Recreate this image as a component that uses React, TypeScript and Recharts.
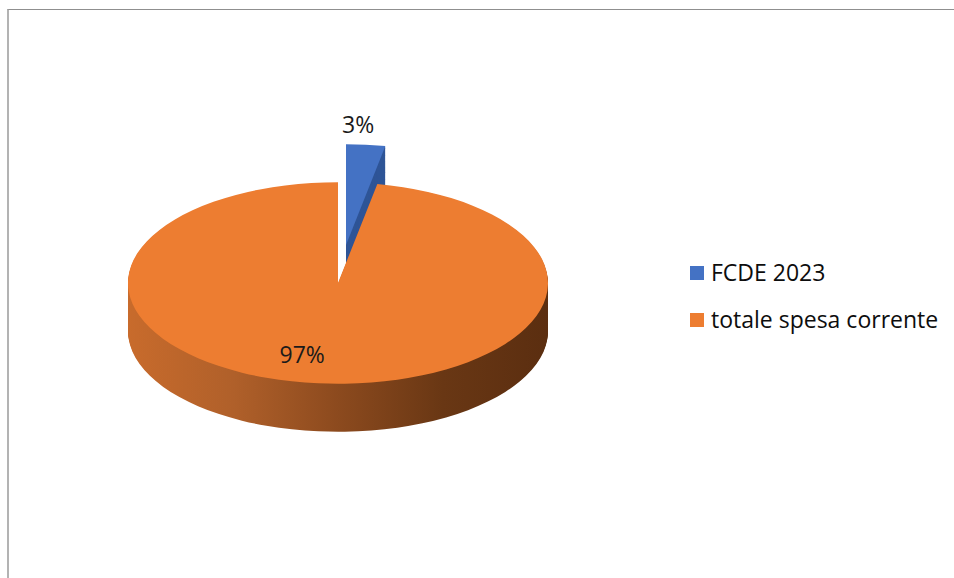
import { PieChart, Pie, Cell } from 'recharts'

const categories = ['FCDE 2023', 'totale spesa corrente']
const values = [3, 97]
const topColors = ['#4472C4', '#ED7D31']
const sideColors = ['#2F5597', 'url(#orangeSide)']

// the pie is drawn round and squashed vertically to fake Excel's 3D look
const K = 0.48
const CX = 333
const CY = 283 / K - 5
const R = 210
const DEPTH = 48 / K
const BLUE_SHIFT = { dx: 8, dy: -38 / K }
const FONT = '"Open Sans", sans-serif'

const data = categories.map((name, i) => ({ name, value: values[i] }))

const depthSteps: number[] = []
for (let s = DEPTH; s > 0; s -= 2) depthSteps.push(s)

const makeLabel = (idx: number, factor: number, nudge: number) => (p: any) => {
  if (p.index !== idx) return null
  const a = (-p.midAngle * Math.PI) / 180
  const r = p.outerRadius * factor
  const x = p.cx + r * Math.cos(a) + nudge
  const y = (p.cy + r * Math.sin(a)) * K
  return (
    <text
      x={x}
      y={y}
      transform={`scale(1, ${1 / K})`}
      textAnchor="middle"
      fill="#1a1a1a"
      fontSize={23}
      fontFamily={FONT}
    >
      {`${Math.round(p.percent * 100)}%`}
    </text>
  )
}

function sliceStack(idx: number, cx: number, cy: number, labelFactor: number, nudge: number) {
  const sides = depthSteps.map((s) => (
    <Pie
      key={`side-${idx}-${s}`}
      data={data}
      dataKey="value"
      cx={cx}
      cy={cy + s}
      outerRadius={R}
      startAngle={90}
      endAngle={-270}
      stroke="none"
      legendType="none"
      isAnimationActive={false}
    >
      {data.map((_, i) => (
        <Cell key={i} fill={i === idx ? sideColors[idx] : 'none'} />
      ))}
    </Pie>
  ))
  const top = (
    <Pie
      key={`top-${idx}`}
      data={data}
      dataKey="value"
      cx={cx}
      cy={cy}
      outerRadius={R}
      startAngle={90}
      endAngle={-270}
      stroke="none"
      legendType="none"
      label={makeLabel(idx, labelFactor, nudge)}
      labelLine={false}
      isAnimationActive={false}
    >
      {data.map((_, i) => (
        <Cell key={i} fill={i === idx ? topColors[idx] : 'none'} />
      ))}
    </Pie>
  )
  return [...sides, top]
}

function LegendBox() {
  return (
    <div style={{ position: 'absolute', left: 690, top: 249, fontFamily: FONT, fontSize: 23 }}>
      {categories.map((name, i) => (
        <div key={name} style={{ display: 'flex', alignItems: 'center', height: 47, lineHeight: '47px' }}>
          <span style={{ width: 14, height: 14, background: topColors[i], marginRight: 7 }} />
          <span style={{ color: '#0d0d0d', whiteSpace: 'nowrap' }}>{name}</span>
        </div>
      ))}
    </div>
  )
}

export default function App() {
  return (
    <div
      style={{
        position: 'absolute',
        left: 0,
        top: 0,
        width: 954,
        height: 578,
        overflow: 'hidden',
        background: '#fff',
      }}
    >
      <div
        style={{
          position: 'absolute',
          left: 7,
          top: 9,
          width: 960,
          height: 600,
          borderTop: '1px solid #8f8f8f',
          borderLeft: '2px solid #b3b3b3',
        }}
      />
      <div
        style={{
          position: 'absolute',
          left: 0,
          top: 0,
          width: 700,
          height: 920,
          transform: `scaleY(${K})`,
          transformOrigin: '0 0',
        }}
      >
        <PieChart width={700} height={920}>
          <defs>
            <linearGradient id="orangeSide" x1="0" y1="0" x2="1" y2="0">
              <stop offset="0%" stopColor="#c86b2c" />
              <stop offset="25%" stopColor="#b0602a" />
              <stop offset="50%" stopColor="#8c4a1e" />
              <stop offset="75%" stopColor="#693714" />
              <stop offset="100%" stopColor="#5b2e10" />
            </linearGradient>
          </defs>
          {sliceStack(0, CX + BLUE_SHIFT.dx, CY + BLUE_SHIFT.dy, 1.12, -10)}
          {sliceStack(1, CX, CY, 0.8, -20)}
        </PieChart>
      </div>
      <LegendBox />
    </div>
  )
}
